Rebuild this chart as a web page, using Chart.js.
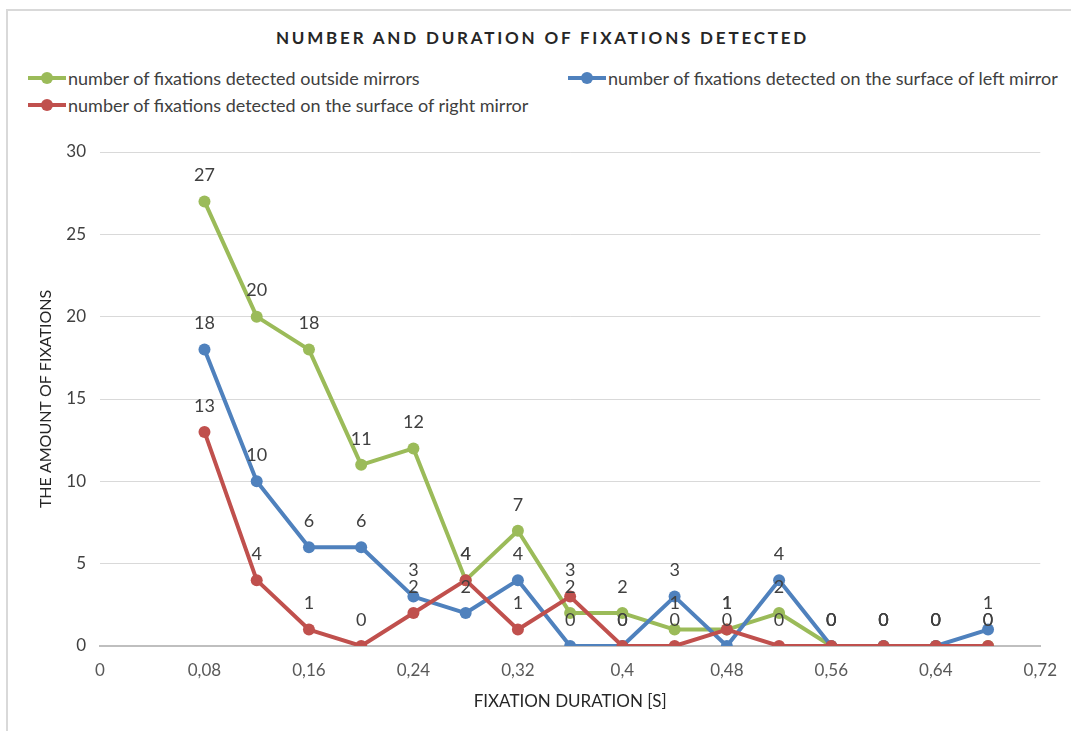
<!DOCTYPE html>
<html>
<head>
<meta charset="utf-8">
<script src="https://cdn.jsdelivr.net/npm/chart.js@4.4.0/dist/chart.umd.min.js"></script>
<style>
  html, body { margin: 0; padding: 0; background: #fff; }
  body { width: 1071px; height: 731px; position: relative; overflow: hidden; font-family: Lato, "Open Sans", sans-serif; }
  #frame { position: absolute; left: 6px; top: 9px; width: 1100px; height: 760px; border: 2px solid #d9d9d9; box-sizing: border-box; }
  #title { position: absolute; left: 0; width: 1085px; top: 27px; text-align: center; font-size: 17px; font-weight: bold; letter-spacing: 2.8px; color: #262626; }
  #legend { position: absolute; left: 0; top: 0; }
  .item { position: absolute; display: flex; align-items: center; font-size: 18px; color: #404040; white-space: nowrap; }
  .mark { position: relative; width: 38px; height: 12px; margin-right: 2px; }
  .mark .ln { position: absolute; left: 0; right: 0; top: 4px; height: 4px; }
  .mark .dot { position: absolute; left: 13px; top: 0; width: 12px; height: 12px; border-radius: 50%; }
  #wrap { position: absolute; left: 0; top: 0; width: 1071px; height: 731px; }
</style>
</head>
<body>
<div id="frame"></div>
<div id="title">NUMBER AND DURATION OF FIXATIONS DETECTED</div>
<div id="legend"></div>
<div id="wrap"><canvas id="chart"></canvas></div>
<script>
// fixation duration [s] for each measured point
const durations = [0.08, 0.12, 0.16, 0.20, 0.24, 0.28, 0.32, 0.36, 0.40, 0.44, 0.48, 0.52, 0.56, 0.60, 0.64, 0.68];
const outsideMirrors = [27, 20, 18, 11, 12, 4, 7, 2, 2, 1, 1, 2, 0, 0, 0, 0];
const leftMirror = [18, 10, 6, 6, 3, 2, 4, 0, 0, 3, 0, 4, 0, 0, 0, 1];
const rightMirror = [13, 4, 1, 0, 2, 4, 1, 3, 0, 0, 1, 0, 0, 0, 0, 0];
const xTicks = [0, 0.08, 0.16, 0.24, 0.32, 0.4, 0.48, 0.56, 0.64, 0.72];
const yTicks = [0, 5, 10, 15, 20, 25, 30];

const seriesNames = [
    'number of fixations detected outside mirrors',
    'number of fixations detected on the surface of left mirror',
    'number of fixations detected on the surface of right mirror'
];

const FONT = 'Lato, "Open Sans", sans-serif';

function toPoints(values) {
    return values.map((v, i) => ({ x: durations[i], y: v }));
}

function makeDataset(label, values, color, order) {
    return {
        label: label,
        data: toPoints(values),
        borderColor: color,
        backgroundColor: color,
        borderWidth: 4,
        borderJoinStyle: 'round',
        pointRadius: 6,
        pointHoverRadius: 6,
        pointBorderWidth: 0,
        pointBackgroundColor: color,
        tension: 0,
        order: order
    };
}

// draws the value above each point, like excel data labels
const valueLabels = {
    id: 'valueLabels',
    afterDatasetsDraw(chart) {
        const ctx = chart.ctx;
        ctx.save();
        ctx.font = '18px ' + FONT;
        ctx.fillStyle = '#404040';
        ctx.textAlign = 'center';
        ctx.textBaseline = 'middle';
        chart.data.datasets.forEach((ds, i) => {
            const meta = chart.getDatasetMeta(i);
            meta.data.forEach((pt, j) => {
                ctx.fillText(String(ds.data[j].y), pt.x, pt.y - 26);
            });
        });
        ctx.restore();
    }
};

const fmt = v => parseFloat(v.toFixed(2)).toString().replace('.', ',');

const ctx = document.getElementById('chart').getContext('2d');
const chart = new Chart(ctx, {
    type: 'line',
    data: {
        datasets: [
            makeDataset(seriesNames[0], outsideMirrors, '#9bbb59', 3),
            makeDataset(seriesNames[1], leftMirror, '#4f81bd', 2),
            makeDataset(seriesNames[2], rightMirror, '#c0504d', 1)
        ]
    },
    options: {
        responsive: true,
        maintainAspectRatio: false,
        animation: false,
        layout: {
            padding: { left: 36, right: 29, top: 152, bottom: 0 }
        },
        plugins: {
            legend: { display: false },
            tooltip: { enabled: false }
        },
        scales: {
            x: {
                type: 'linear',
                min: 0,
                max: 0.72,
                afterBuildTicks: axis => { axis.ticks = xTicks.map(v => ({ value: v })); },
                afterFit: axis => { axis.height = 85; },
                grid: { display: false, drawTicks: false },
                border: { display: true, color: '#bfbfbf', width: 2 },
                ticks: {
                    color: '#595959',
                    font: { size: 17, family: FONT },
                    padding: 14,
                    maxRotation: 0,
                    callback: v => fmt(v)
                },
                title: {
                    display: true,
                    text: 'FIXATION DURATION [S]',
                    color: '#262626',
                    font: { size: 17, family: FONT },
                    padding: { top: 0, bottom: 19 }
                }
            },
            y: {
                min: 0,
                max: 30,
                afterBuildTicks: axis => { axis.ticks = yTicks.map(v => ({ value: v })); },
                afterFit: axis => { axis.width = 64; },
                grid: {
                    color: ctx => ctx.tick && ctx.tick.value === 0 ? 'rgba(0,0,0,0)' : '#d9d9d9',
                    lineWidth: 1,
                    drawTicks: false
                },
                border: { display: false },
                ticks: {
                    color: '#404040',
                    font: { size: 17, family: FONT },
                    padding: 14
                },
                title: {
                    display: true,
                    text: 'THE AMOUNT OF FIXATIONS',
                    color: '#262626',
                    font: { size: 16, family: FONT },
                    padding: { top: 0, bottom: 0 }
                }
            }
        }
    },
    plugins: [valueLabels]
});

// html legend built from the datasets, laid out like the excel legend
const legendSpots = [[28, 67], [568, 67], [28, 94]];
const legendEl = document.getElementById('legend');
chart.data.datasets.forEach((ds, i) => {
    const item = document.createElement('div');
    item.className = 'item';
    item.style.left = legendSpots[i][0] + 'px';
    item.style.top = legendSpots[i][1] + 'px';
    item.innerHTML = '<span class="mark"><span class="ln" style="background:' + ds.borderColor +
        '"></span><span class="dot" style="background:' + ds.borderColor + '"></span></span>' +
        '<span>' + ds.label + '</span>';
    legendEl.appendChild(item);
});
</script>
</body>
</html>
